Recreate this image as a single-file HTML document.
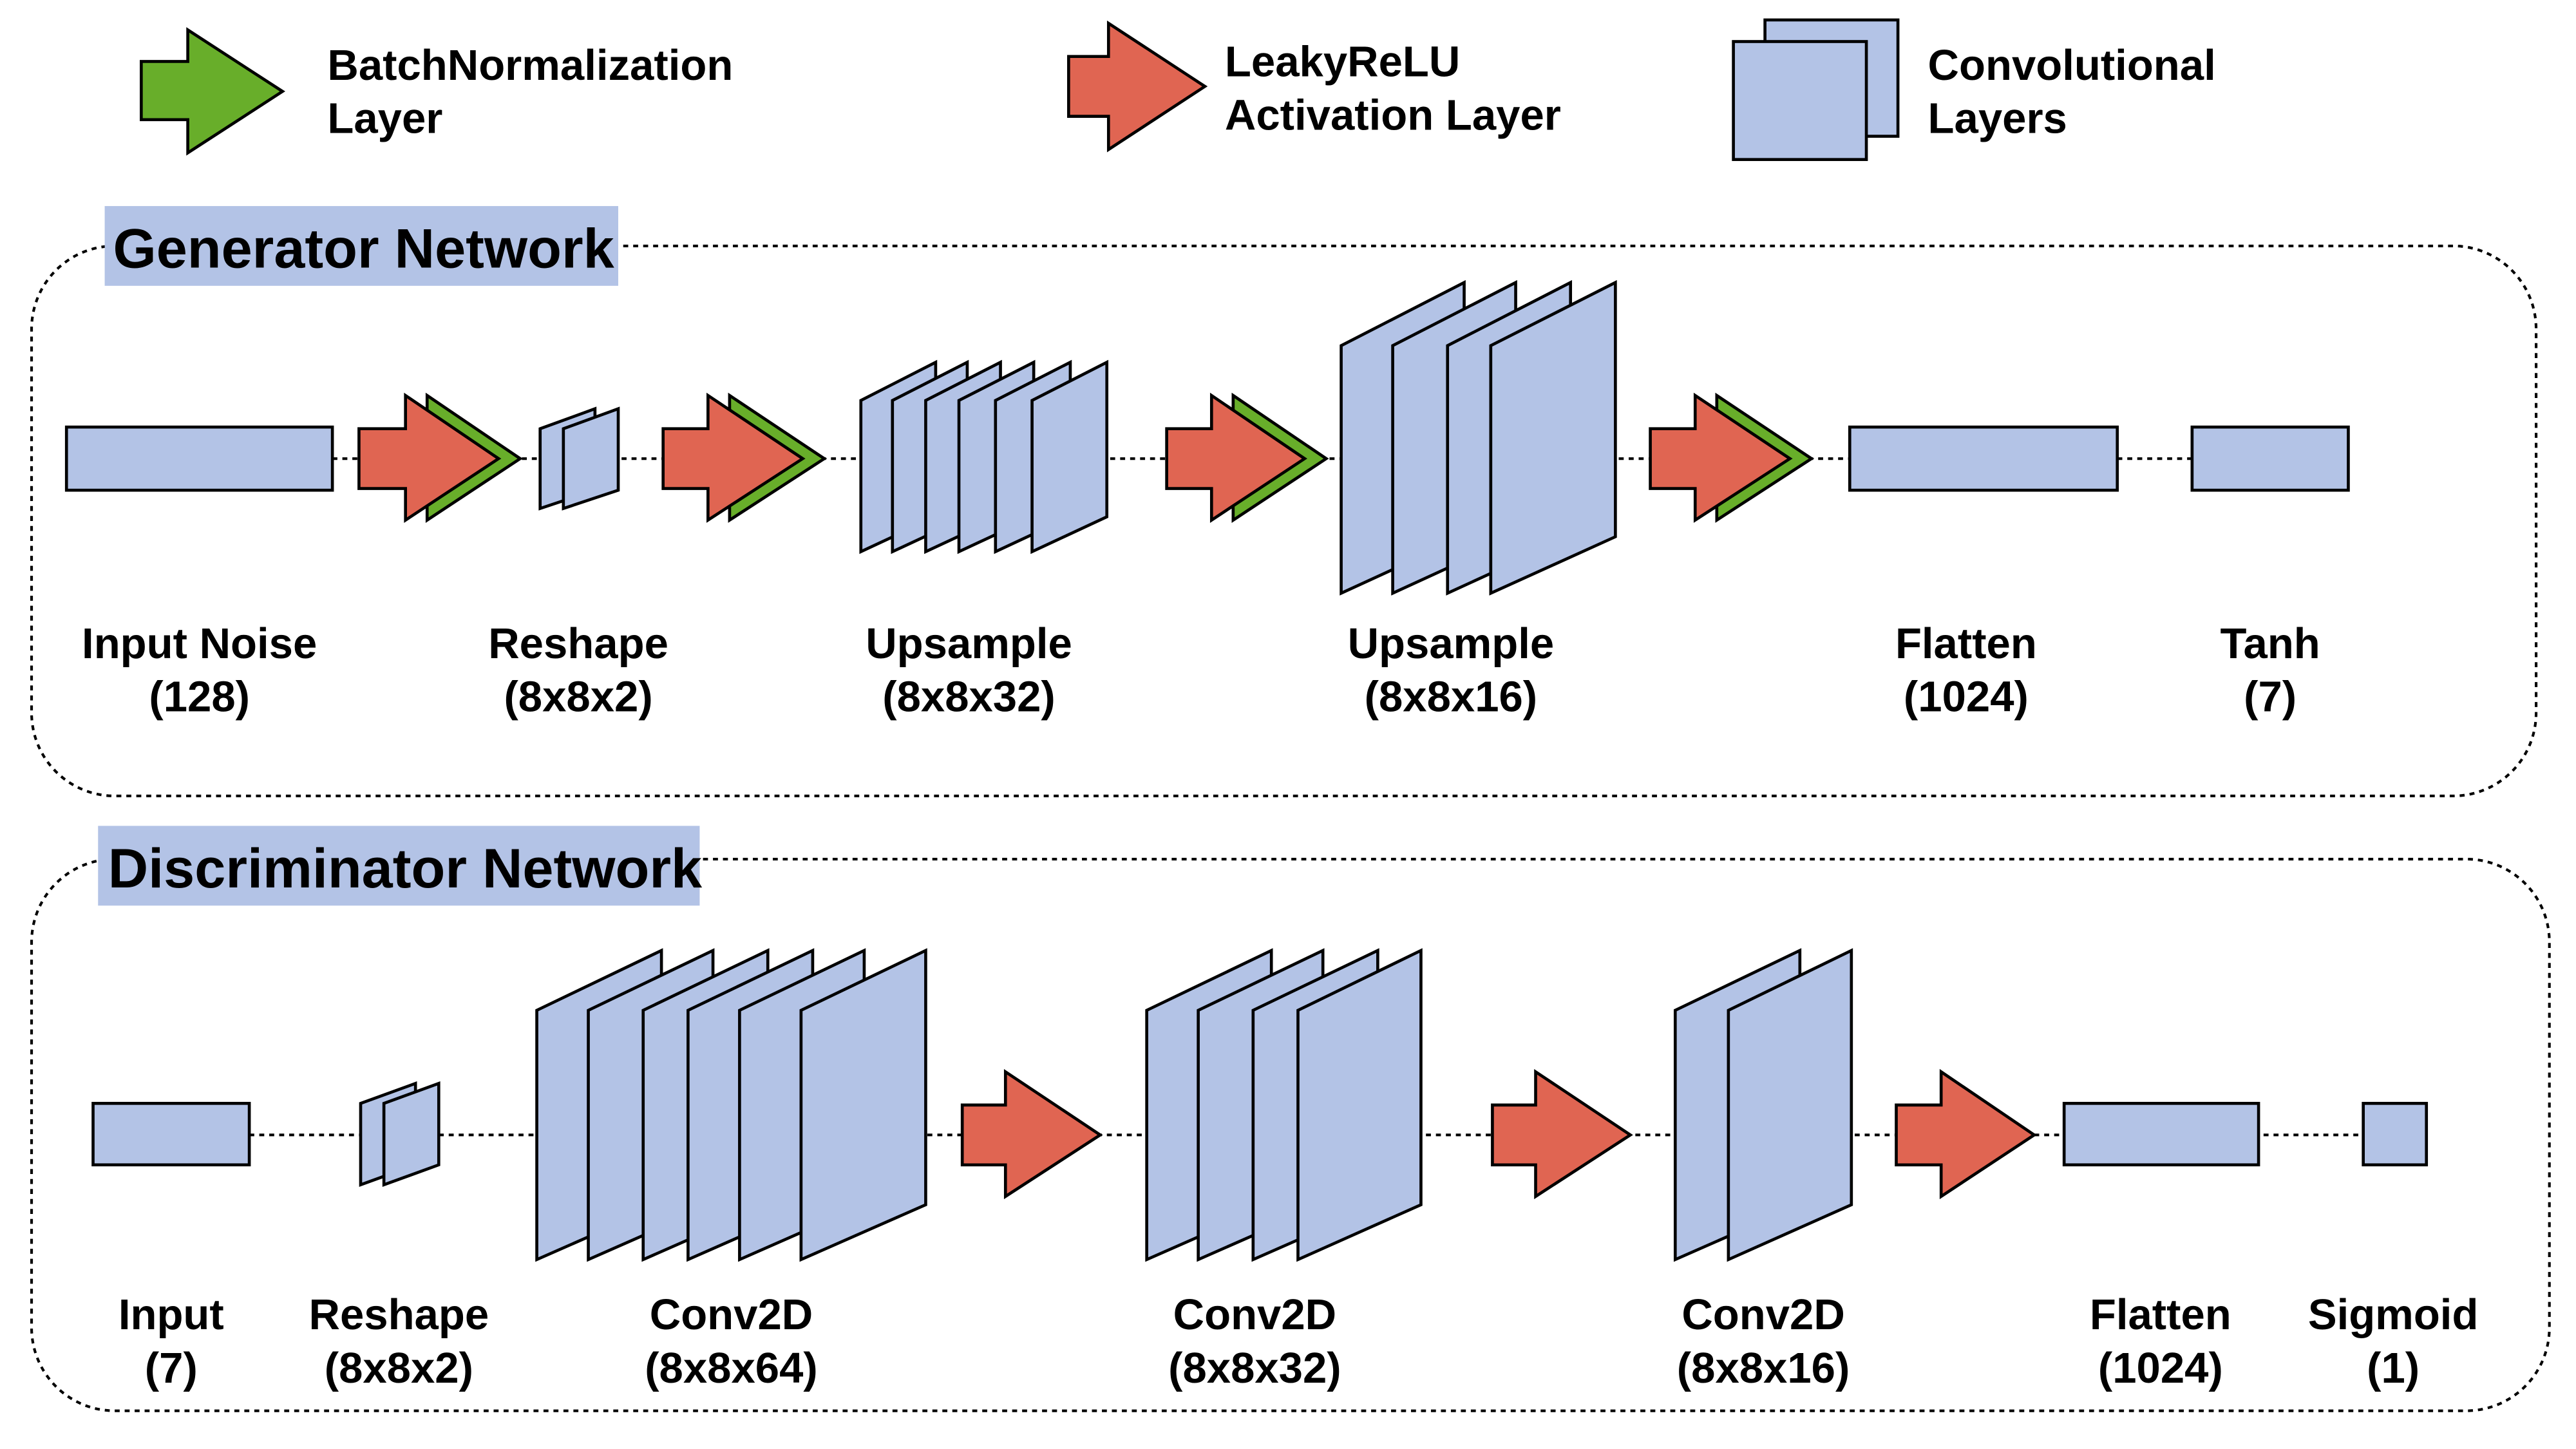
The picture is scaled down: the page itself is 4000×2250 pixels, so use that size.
<!DOCTYPE html>
<html><head><meta charset="utf-8"><style>
html,body{margin:0;padding:0;background:#fff;}
svg{display:block;}
text{font-family:"Liberation Sans",Arial,sans-serif;font-weight:bold;fill:#000;}
</style></head><body>
<svg width="4000" height="2250" viewBox="0 0 1550 872" preserveAspectRatio="none" xmlns="http://www.w3.org/2000/svg">
<g stroke="#000" stroke-width="1.8" stroke-linejoin="miter">
<polygon fill="#68ae2a" points="85,37 113,37 113,18 170,55 113,92 113,72 85,72"/>
<polygon fill="#e06552" points="643,34 667,34 667,14 725,52 667,90 667,70 643,70"/>
<rect x="1062" y="12" width="80" height="70" fill="#b3c3e6"/>
<rect x="1043" y="25" width="80" height="71" fill="#b3c3e6"/>
</g>
<g font-size="26">
<text x="197" y="48">BatchNormalization</text>
<text x="197" y="80">Layer</text>
<text x="737" y="46">LeakyReLU</text>
<text x="737" y="78">Activation Layer</text>
<text x="1160" y="48">Convolutional</text>
<text x="1160" y="80">Layers</text>
</g>

<g fill="none" stroke="#000" stroke-width="1.6" stroke-dasharray="3,3">
<rect x="19" y="148" width="1507" height="331" rx="50"/>
<rect x="19" y="517" width="1515" height="332" rx="50"/>
<line x1="200" y1="276" x2="1319" y2="276"/>
<line x1="150" y1="683" x2="1422" y2="683"/>
</g>
<rect x="63" y="124" width="309" height="48" fill="#b3c3e6"/>
<text x="68" y="161" font-size="33.5">Generator Network</text>
<rect x="59" y="497" width="362" height="48" fill="#b3c3e6"/>
<text x="65" y="534" font-size="33.5">Discriminator Network</text>

<g stroke="#000" stroke-width="1.8" fill="#b3c3e6">
<rect x="40" y="257" width="160" height="38"/>
<polygon points="325,258 358,246 358,295 325,306"/>
<polygon points="339,258 372,246 372,295 339,306"/>
<polygon points="518,241 563,218 563,311 518,332"/>
<polygon points="537,241 582,218 582,311 537,332"/>
<polygon points="557,241 602,218 602,311 557,332"/>
<polygon points="577,241 622,218 622,311 577,332"/>
<polygon points="599,241 644,218 644,311 599,332"/>
<polygon points="621,241 666,218 666,311 621,332"/>
<polygon points="807,208 881,170 881,323 807,357"/>
<polygon points="838,208 912,170 912,323 838,357"/>
<polygon points="871,208 945,170 945,323 871,357"/>
<polygon points="897,208 972,170 972,323 897,357"/>
<rect x="1113" y="257" width="161" height="38"/>
<rect x="1319" y="257" width="94" height="38"/>
<rect x="56" y="664" width="94" height="37"/>
<polygon points="217,664 250,652 250,701 217,713"/>
<polygon points="231,664 264,652 264,701 231,713"/>
<polygon points="323,608 398,572 398,725 323,758"/>
<polygon points="354,608 429,572 429,725 354,758"/>
<polygon points="387,608 462,572 462,725 387,758"/>
<polygon points="414,608 489,572 489,725 414,758"/>
<polygon points="445,608 520,572 520,725 445,758"/>
<polygon points="482,608 557,572 557,725 482,758"/>
<polygon points="690,608 765,572 765,725 690,758"/>
<polygon points="721,608 796,572 796,725 721,758"/>
<polygon points="754,608 829,572 829,725 754,758"/>
<polygon points="781,608 855,572 855,725 781,758"/>
<polygon points="1008,608 1083,572 1083,725 1008,758"/>
<polygon points="1040,608 1114,572 1114,725 1040,758"/>
<rect x="1242" y="664" width="117" height="37"/>
<rect x="1422" y="664" width="38" height="37"/>
</g>
<g stroke="#000" stroke-width="1.8">
<polygon fill="#68ae2a" points="257,238 313,276 257,313"/>
<polygon fill="#e06552" points="216,258 244,258 244,238 300,276 244,313 244,294 216,294"/>
<polygon fill="#68ae2a" points="439,238 496,276 439,313"/>
<polygon fill="#e06552" points="399,258 426,258 426,238 483,276 426,313 426,294 399,294"/>
<polygon fill="#68ae2a" points="742,238 798,276 742,313"/>
<polygon fill="#e06552" points="702,258 729,258 729,238 785,276 729,313 729,294 702,294"/>
<polygon fill="#68ae2a" points="1033,238 1090,276 1033,313"/>
<polygon fill="#e06552" points="993,258 1020,258 1020,238 1077,276 1020,313 1020,294 993,294"/>
<polygon fill="#e06552" points="579,665 605,665 605,645 662,683 605,720 605,701 579,701"/>
<polygon fill="#e06552" points="898,665 924,665 924,645 981,683 924,720 924,701 898,701"/>
<polygon fill="#e06552" points="1141,665 1168,665 1168,645 1224,683 1168,720 1168,701 1141,701"/>
</g>

<g font-size="26" text-anchor="middle">
<text x="120" y="396">Input Noise</text><text x="120" y="428">(128)</text>
<text x="348" y="396">Reshape</text><text x="348" y="428">(8x8x2)</text>
<text x="583" y="396">Upsample</text><text x="583" y="428">(8x8x32)</text>
<text x="873" y="396">Upsample</text><text x="873" y="428">(8x8x16)</text>
<text x="1183" y="396">Flatten</text><text x="1183" y="428">(1024)</text>
<text x="1366" y="396">Tanh</text><text x="1366" y="428">(7)</text>

<text x="103" y="800">Input</text><text x="103" y="832">(7)</text>
<text x="240" y="800">Reshape</text><text x="240" y="832">(8x8x2)</text>
<text x="440" y="800">Conv2D</text><text x="440" y="832">(8x8x64)</text>
<text x="755" y="800">Conv2D</text><text x="755" y="832">(8x8x32)</text>
<text x="1061" y="800">Conv2D</text><text x="1061" y="832">(8x8x16)</text>
<text x="1300" y="800">Flatten</text><text x="1300" y="832">(1024)</text>
<text x="1440" y="800">Sigmoid</text><text x="1440" y="832">(1)</text>
</g>
</svg>
</body></html>
